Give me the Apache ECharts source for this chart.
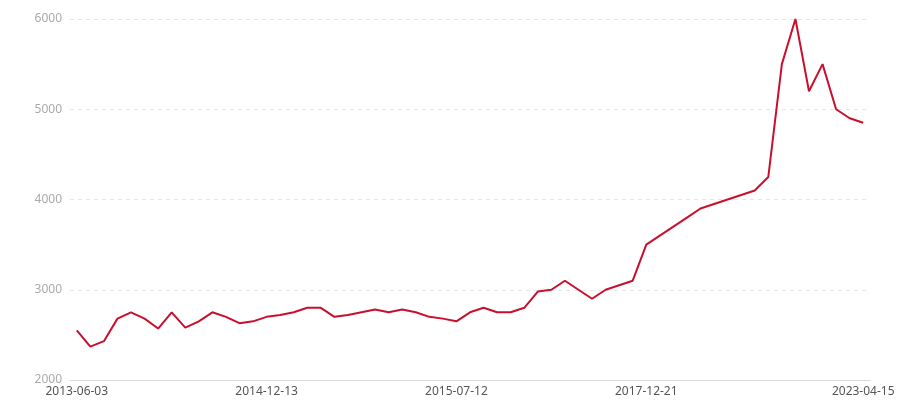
<!DOCTYPE html>
<html>
<head>
<meta charset="utf-8">
<script src="https://cdn.jsdelivr.net/npm/echarts@6/dist/echarts.min.js"></script>
<style>
  html, body { margin: 0; padding: 0; background: #fff; }
  #chart { width: 900px; height: 400px; }
</style>
</head>
<body>
<div id="chart"></div>
<script>
// dates (category axis, uneven spacing)
var dates = [
  '2013-06-03', '2013-07-15', '2013-08-22', '2013-09-30', '2013-11-08',
  '2013-12-16', '2014-01-25', '2014-03-04', '2014-04-12', '2014-05-20',
  '2014-06-28', '2014-08-06', '2014-09-14', '2014-10-23', '2014-12-13',
  '2014-12-28', '2015-01-12', '2015-01-27', '2015-02-11', '2015-02-26',
  '2015-03-13', '2015-03-28', '2015-04-12', '2015-04-27', '2015-05-12',
  '2015-05-27', '2015-06-11', '2015-06-26', '2015-07-12',
  '2015-09-14', '2015-11-17', '2016-01-20', '2016-03-24', '2016-05-27',
  '2016-07-30', '2016-10-02', '2016-12-05', '2017-02-07', '2017-04-12',
  '2017-06-15', '2017-08-18', '2017-10-21', '2017-12-21',
  '2018-04-21', '2018-08-20', '2018-12-19', '2019-04-19', '2019-08-18',
  '2019-12-17', '2020-04-16', '2020-08-15', '2020-12-14', '2021-04-14',
  '2021-08-13', '2021-12-12', '2022-04-12', '2022-08-11', '2022-12-10',
  '2023-04-15'
]
var values = [
  2550, 2370, 2430, 2680, 2750, 2680, 2570, 2750, 2580, 2650,
  2750, 2700, 2630, 2650, 2700, 2720, 2750, 2800, 2800,
  2700, 2720, 2750, 2780, 2750, 2780, 2750, 2700, 2680, 2650,
  2750, 2800, 2750, 2750, 2800, 2980, 3000, 3100, 3000, 2900,
  3000, 3050, 3100, 3500, 3600, 3700, 3800, 3900, 3950, 4000,
  4050, 4100, 4250, 5500, 6000, 5200, 5500, 5000, 4900, 4850
]
var yTicks = [2000, 3000, 4000, 5000, 6000]

// labels every 14 points, plus the last one
function showLabel(i) {
  return (i % 14 === 0 && i <= 42) || i === dates.length - 1
}

var chart = echarts.init(document.getElementById('chart'))
chart.setOption({
  backgroundColor: '#FFFFFF',
  animation: false,
  textStyle: { fontFamily: 'Noto Sans' },
  grid: {
    left: 70,
    right: 30,
    top: 19,
    bottom: 20
  },
  xAxis: {
    type: 'category',
    data: dates,
    boundaryGap: true,
    axisLine: { lineStyle: { color: '#d9d9d9', width: 1 } },
    axisTick: {
      alignWithLabel: true,
      interval: showLabel,
      lineStyle: { color: '#cccccc' }
    },
    axisLabel: {
      interval: showLabel,
      color: '#555',
      fontSize: 12,
      margin: 6
    }
  },
  yAxis: {
    type: 'value',
    min: yTicks[0],
    max: yTicks[yTicks.length - 1],
    interval: 1000,
    axisLine: { show: false },
    axisTick: { show: false },
    axisLabel: {
      color: '#aaa',
      fontSize: 12,
      margin: 8,
      formatter: function (v) { return String(v) }
    },
    splitLine: { lineStyle: { color: '#e6e6e6', type: [4, 4] } }
  },
  series: [
    {
      type: 'line',
      data: values,
      showSymbol: false,
      symbol: 'none',
      lineStyle: { color: '#c8102e', width: 2 },
      itemStyle: { color: '#c8102e' }
    }
  ]
})
</script>
</body>
</html>
